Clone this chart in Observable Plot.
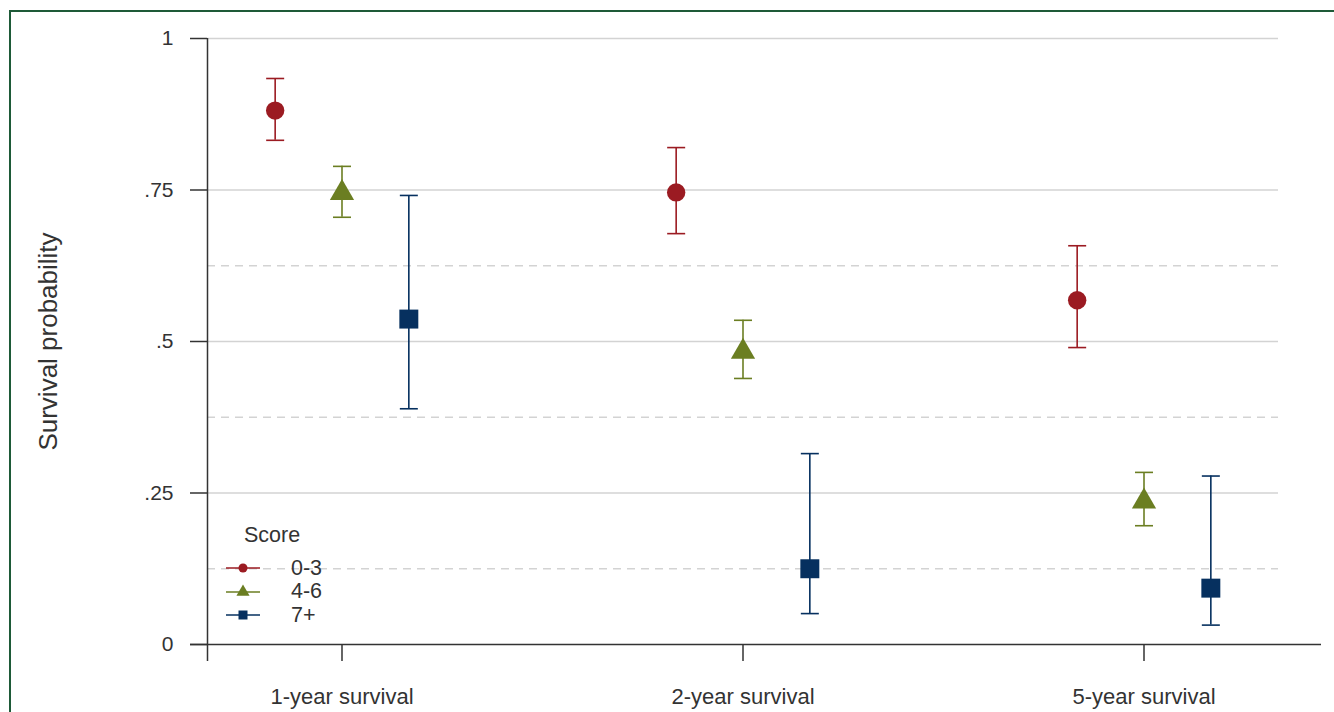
<!DOCTYPE html>
<html>
<head>
<meta charset="utf-8">
<script src="https://cdn.jsdelivr.net/npm/d3@7"></script>
<script src="https://cdn.jsdelivr.net/npm/@observablehq/plot@0.6"></script>
<style>
  html, body { margin: 0; padding: 0; background: #fff; }
  #wrap { position: relative; width: 1334px; height: 712px; overflow: hidden; font-family: "Liberation Sans", Arial, Helvetica, sans-serif; color: #333; }
  #border { position: absolute; left: 9px; top: 10px; width: 1500px; height: 900px; border: 2.5px solid #1e5a38; box-sizing: border-box; }
  #chart { position: absolute; left: 0; top: 0; }
  #legend { position: absolute; left: 226px; top: 520px; font-size: 21.5px; color: #333; }
  #legend .title { position: absolute; left: 18px; top: 3px; white-space: nowrap; }
  #legend .row { position: absolute; left: 0; height: 24px; display: flex; align-items: center; white-space: nowrap; }
  #legend .row span { margin-left: 31px; }
</style>
</head>
<body>
<div id="wrap">
  <div id="border"></div>
  <div id="chart"></div>
  <div id="legend"></div>
</div>
<script>
// ---- data ----
const periods = ["1-year survival", "2-year survival", "5-year survival"];
const scores = ["0-3", "4-6", "7+"];
const legendTitle = "Score";
const yLabel = "Survival probability";

const est_0_3 = [0.881, 0.746, 0.568];
const lo_0_3  = [0.832, 0.678, 0.490];
const hi_0_3  = [0.934, 0.820, 0.658];

const est_4_6 = [0.745, 0.483, 0.236];
const lo_4_6  = [0.705, 0.439, 0.196];
const hi_4_6  = [0.789, 0.535, 0.284];

const est_7p = [0.537, 0.125, 0.093];
const lo_7p  = [0.389, 0.051, 0.032];
const hi_7p  = [0.741, 0.315, 0.278];

const yTicks = [0, 0.25, 0.5, 0.75, 1];
const yTickLabels = ["0", ".25", ".5", ".75", "1"];
const solidGrid = [0.25, 0.5, 0.75, 1];
const dashedGrid = [0.125, 0.375, 0.625];

// ---- styles ----
const colors = ["#9b1b22", "#6b7e22", "#06305f"];
const symbols = ["circle", "triangle", "square"];
const radii = [9.2, 9.0, 10.7];
const dodge = [-1 / 6, 0, 1 / 6];

const estimates = [est_0_3, est_4_6, est_7p];
const lows = [lo_0_3, lo_4_6, lo_7p];
const highs = [hi_0_3, hi_4_6, hi_7p];

const rows = scores.flatMap((s, j) => periods.map((p, i) => ({
  period: p, score: s, j, x: i + 1 + dodge[j],
  est: estimates[j][i], lo: lows[j][i], hi: highs[j][i]
})));

// horizontal cap symbol
const capSymbol = {
  draw(context, size) {
    const h = Math.sqrt(size / Math.PI);
    context.moveTo(-h, 0);
    context.lineTo(h, 0);
  }
};

const font = '"Liberation Sans", Arial, Helvetica, sans-serif';
const ink = "#333";

const marks = [
  Plot.ruleY(solidGrid, {stroke: "#d3d3d3", strokeWidth: 1.5}),
  Plot.ruleY(dashedGrid, {stroke: "#d3d3d3", strokeWidth: 1.5, strokeDasharray: "8,6"}),
  Plot.ruleY([0], {stroke: ink, strokeWidth: 1.5, insetLeft: -17, insetRight: -43}),
  Plot.ruleX([0.6646], {stroke: ink, strokeWidth: 1.5, insetBottom: -17}),
  Plot.axisY({ticks: yTicks, tickFormat: d => yTickLabels[yTicks.indexOf(d)], tickSize: 17, tickPadding: 17,
              fontSize: 21, label: null, stroke: ink, strokeWidth: 1.5, fill: ink}),
  Plot.axisX({ticks: [1, 2, 3], tickFormat: d => periods[d - 1], tickSize: 17, tickPadding: 27,
              fontSize: 22, label: null, stroke: ink, strokeWidth: 1.5, fill: ink}),
  Plot.text([yLabel], {text: d => d, frameAnchor: "left", textAnchor: "middle", lineAnchor: "middle",
              dx: -159, rotate: -90, fontSize: 26, fill: ink, letterSpacing: "0.6px"})
];

scores.forEach((s, j) => {
  const data = rows.filter(d => d.j === j);
  marks.push(
    Plot.ruleX(data, {x: "x", y1: "lo", y2: "hi", stroke: colors[j], strokeWidth: 1.6}),
    Plot.dot(data, {x: "x", y: "lo", symbol: capSymbol, r: 9, fill: "none", stroke: colors[j], strokeWidth: 1.6}),
    Plot.dot(data, {x: "x", y: "hi", symbol: capSymbol, r: 9, fill: "none", stroke: colors[j], strokeWidth: 1.6}),
    Plot.dot(data, {x: "x", y: "est", symbol: symbols[j], r: radii[j], fill: colors[j], stroke: "none"})
  );
});

const chart = Plot.plot({
  width: 1334,
  height: 712,
  marginTop: 38,
  marginBottom: 68,
  marginLeft: 207,
  marginRight: 56,
  x: {domain: [0.6646, 3.3354]},
  y: {domain: [0, 1]},
  style: {fontFamily: font, color: ink, background: "transparent", overflow: "visible"},
  marks
});
document.getElementById("chart").appendChild(chart);

// ---- legend ----
const legend = d3.select("#legend");
legend.append("div").attr("class", "title").text(legendTitle);
const legendSizes = [64, 75, 81];
scores.forEach((s, j) => {
  const row = legend.append("div").attr("class", "row").style("top", (36 + j * 23.5) + "px");
  const svg = row.append("svg").attr("width", 34).attr("height", 24);
  svg.append("line").attr("x1", 0).attr("x2", 34).attr("y1", 12).attr("y2", 12)
    .attr("stroke", colors[j]).attr("stroke-width", 1.6);
  const symType = [d3.symbolCircle, d3.symbolTriangle, d3.symbolSquare][j];
  svg.append("path").attr("d", d3.symbol(symType, legendSizes[j])())
    .attr("transform", "translate(17,12)").attr("fill", colors[j]);
  row.append("span").text(s);
});
</script>
</body>
</html>
